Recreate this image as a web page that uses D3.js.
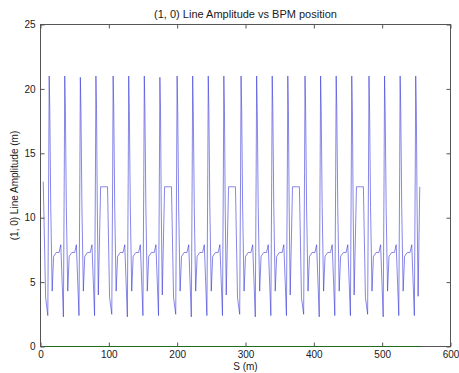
<!DOCTYPE html>
<html>
<head>
<meta charset="utf-8">
<script src="https://cdn.jsdelivr.net/npm/d3@7"></script>
<style>
  body { margin: 0; background: #fff; }
  text { font-family: "Liberation Sans", Arial, sans-serif; fill: #1a1a1a; }
</style>
</head>
<body>
<svg id="chart" width="459" height="373"></svg>
<script>
// BPM positions along the ring (m), one line per superperiod
const sPos = [
  4.0, 7.5, 10.7, 12.0, 12.7, 13.6, 15.0, 17.1, 19.2, 23.2, 27.2, 29.7,
  33.5, 34.8, 35.5, 36.4, 37.8, 39.9, 42.0, 46.0, 50.0, 52.5,
  56.3, 57.6, 58.3, 59.2, 60.6, 62.7, 64.8, 68.8, 72.8, 75.3,
  79.1, 80.4, 81.1, 82.0, 83.1, 84.6, 88.0, 98.1, 101.1,

  104.3, 105.6, 106.3, 107.2, 108.6, 110.7, 112.8, 116.8, 120.8, 123.3,
  127.1, 128.4, 129.1, 130.0, 131.4, 133.5, 135.6, 139.6, 143.6, 146.1,
  149.9, 151.2, 151.9, 152.8, 154.2, 156.3, 158.4, 162.4, 166.4, 168.9,
  172.7, 174.0, 174.7, 175.6, 176.7, 178.2, 181.6, 191.7, 194.7,

  197.9, 199.2, 199.9, 200.8, 202.2, 204.3, 206.4, 210.4, 214.4, 216.9,
  220.7, 222.0, 222.7, 223.6, 225.0, 227.1, 229.2, 233.2, 237.2, 239.7,
  243.5, 244.8, 245.5, 246.4, 247.8, 249.9, 252.0, 256.0, 260.0, 262.5,
  266.3, 267.6, 268.3, 269.2, 270.3, 271.8, 275.2, 285.3, 288.3,

  291.5, 292.8, 293.5, 294.4, 295.8, 297.9, 300.0, 304.0, 308.0, 310.5,
  314.3, 315.6, 316.3, 317.2, 318.6, 320.7, 322.8, 326.8, 330.8, 333.3,
  337.1, 338.4, 339.1, 340.0, 341.4, 343.5, 345.6, 349.6, 353.6, 356.1,
  359.9, 361.2, 361.9, 362.8, 363.9, 365.4, 368.8, 378.9, 381.9,

  385.1, 386.4, 387.1, 388.0, 389.4, 391.5, 393.6, 397.6, 401.6, 404.1,
  407.9, 409.2, 409.9, 410.8, 412.2, 414.3, 416.4, 420.4, 424.4, 426.9,
  430.7, 432.0, 432.7, 433.6, 435.0, 437.1, 439.2, 443.2, 447.2, 449.7,
  453.5, 454.8, 455.5, 456.4, 457.5, 459.0, 462.4, 472.5, 475.5,

  478.7, 480.0, 480.7, 481.6, 483.0, 485.1, 487.2, 491.2, 495.2, 497.7,
  501.5, 502.8, 503.5, 504.4, 505.8, 507.9, 510.0, 514.0, 518.0, 520.5,
  524.3, 525.6, 526.3, 527.2, 528.6, 530.7, 532.8, 536.8, 540.8, 543.3,
  547.1, 548.4, 549.1, 550.0, 551.1, 552.6, 555.0
];

// (1, 0) line amplitude at each BPM (m)
const amplitude = [
  12.8, 3.8, 2.4, 13.5, 21.0, 18.4, 10.8, 4.3, 7.0, 7.3, 7.3, 7.9,
  2.3, 13.5, 21.0, 18.5, 10.8, 4.3, 7.0, 7.3, 7.3, 7.9,
  2.4, 13.4, 20.9, 18.4, 10.9, 4.3, 7.0, 7.3, 7.3, 7.9,
  2.4, 13.5, 21.0, 18.4, 10.8, 4.0, 12.4, 12.4, 3.8,

  2.5, 13.4, 21.0, 18.5, 10.8, 4.3, 7.0, 7.3, 7.3, 7.9,
  2.3, 13.5, 21.0, 18.3, 10.9, 4.3, 7.0, 7.3, 7.3, 7.9,
  2.4, 13.6, 21.0, 18.4, 10.8, 4.3, 7.0, 7.3, 7.3, 7.9,
  2.4, 13.5, 20.9, 18.5, 10.8, 4.0, 12.4, 12.4, 3.8,

  2.5, 13.5, 21.0, 18.4, 10.8, 4.3, 7.0, 7.3, 7.3, 7.9,
  2.3, 13.5, 21.0, 18.4, 10.8, 4.3, 7.0, 7.3, 7.3, 7.9,
  2.4, 13.5, 21.0, 18.4, 10.8, 4.3, 7.0, 7.3, 7.3, 7.9,
  2.4, 13.5, 21.0, 18.4, 10.8, 4.0, 12.4, 12.4, 3.8,

  2.5, 13.5, 21.0, 18.4, 10.8, 4.3, 7.0, 7.3, 7.3, 7.9,
  2.3, 13.5, 21.0, 18.4, 10.8, 4.3, 7.0, 7.3, 7.3, 7.9,
  2.4, 13.5, 21.0, 18.4, 10.8, 4.3, 7.0, 7.3, 7.3, 7.9,
  2.4, 13.5, 21.0, 18.4, 10.8, 4.0, 12.4, 12.4, 3.8,

  2.5, 13.5, 21.0, 18.4, 10.8, 4.3, 7.0, 7.3, 7.3, 7.9,
  2.3, 13.5, 21.0, 18.4, 10.8, 4.3, 7.0, 7.3, 7.3, 7.9,
  2.4, 13.5, 21.0, 18.4, 10.8, 4.3, 7.0, 7.3, 7.3, 7.9,
  2.4, 13.5, 21.0, 18.4, 10.8, 4.0, 12.4, 12.4, 3.8,

  2.5, 13.5, 21.0, 18.4, 10.8, 4.3, 7.0, 7.3, 7.3, 7.9,
  2.3, 13.5, 21.0, 18.4, 10.8, 4.3, 7.0, 7.3, 7.3, 7.9,
  2.4, 13.5, 21.0, 18.4, 10.8, 4.3, 7.0, 7.3, 7.3, 7.9,
  2.4, 13.5, 21.0, 18.4, 10.8, 3.9, 12.4
];

// green reference line at zero
const zeroS = [4.0, 556.0];
const zeroAmp = [0, 0];

const xTicks = [0, 100, 200, 300, 400, 500, 600];
const yTicks = [0, 5, 10, 15, 20, 25];

const svg = d3.select('#chart');
const plotLeft = 40.5, plotRight = 450.5, plotTop = 24.5, plotBottom = 346.5;

let x = d3.scaleLinear().domain([0, 600]).range([plotLeft, plotRight]);
let y = d3.scaleLinear().domain([0, 25]).range([plotBottom, plotTop]);

svg.append('rect')
  .attr('width', 459).attr('height', 373).attr('fill', '#fff');

/* axes, ticks pointing inward on all four sides */
function styleAxis(g) {
  g.select('.domain').remove();
  g.selectAll('.tick line').attr('stroke', '#555');
  g.selectAll('.tick text')
    .style('font-size', '10px')
    .style('font-family', '"Liberation Sans", Arial, sans-serif')
    .attr('fill', '#1a1a1a');
}

svg.append('g')
  .attr('transform', `translate(0,${plotBottom})`)
  .call(d3.axisBottom(x).tickValues(xTicks).tickSizeInner(-4).tickSizeOuter(0).tickPadding(4))
  .call(styleAxis);

svg.append('g')
  .attr('transform', `translate(0,${plotTop})`)
  .call(d3.axisTop(x).tickValues(xTicks).tickSizeInner(-4).tickSizeOuter(0).tickFormat(''))
  .call(styleAxis);

svg.append('g')
  .attr('transform', `translate(${plotLeft},0)`)
  .call(d3.axisLeft(y).tickValues(yTicks).tickSizeInner(-4).tickSizeOuter(0).tickPadding(5))
  .call(styleAxis);

svg.append('g')
  .attr('transform', `translate(${plotRight},0)`)
  .call(d3.axisRight(y).tickValues(yTicks).tickSizeInner(-4).tickSizeOuter(0).tickFormat(''))
  .call(styleAxis);

// box
svg.append('rect')
  .attr('x', plotLeft).attr('y', plotTop)
  .attr('width', plotRight - plotLeft).attr('height', plotBottom - plotTop)
  .attr('fill', 'none').attr('stroke', '#555');

/* lines */
let line = d3.line()
  .x((d) => x(d[0]))
  .y((d) => y(d[1]));

svg.append('path')
  .datum(zeroS.map((s, i) => [s, zeroAmp[i]]))
  .attr('d', line)
  .attr('fill', 'none')
  .attr('stroke', '#1f6b1f')
  .attr('stroke-width', 1);

svg.append('path')
  .datum(sPos.map((s, i) => [s, amplitude[i]]))
  .attr('d', line)
  .attr('fill', 'none')
  .attr('stroke', '#3535d6')
  .attr('stroke-width', 0.6)
  .attr('stroke-linejoin', 'miter');

/* labels */
svg.append('text')
  .attr('x', (plotLeft + plotRight) / 2)
  .attr('y', 18)
  .attr('text-anchor', 'middle')
  .style('font-size', '11px')
  .text('(1, 0) Line Amplitude vs BPM position');

svg.append('text')
  .attr('x', (plotLeft + plotRight) / 2)
  .attr('y', 370)
  .attr('text-anchor', 'middle')
  .style('font-size', '10px')
  .text('S (m)');

svg.append('text')
  .attr('transform', `translate(18,${(plotTop + plotBottom) / 2}) rotate(-90)`)
  .attr('text-anchor', 'middle')
  .style('font-size', '10px')
  .text('(1, 0) Line Amplitude (m)');
</script>
</body>
</html>
